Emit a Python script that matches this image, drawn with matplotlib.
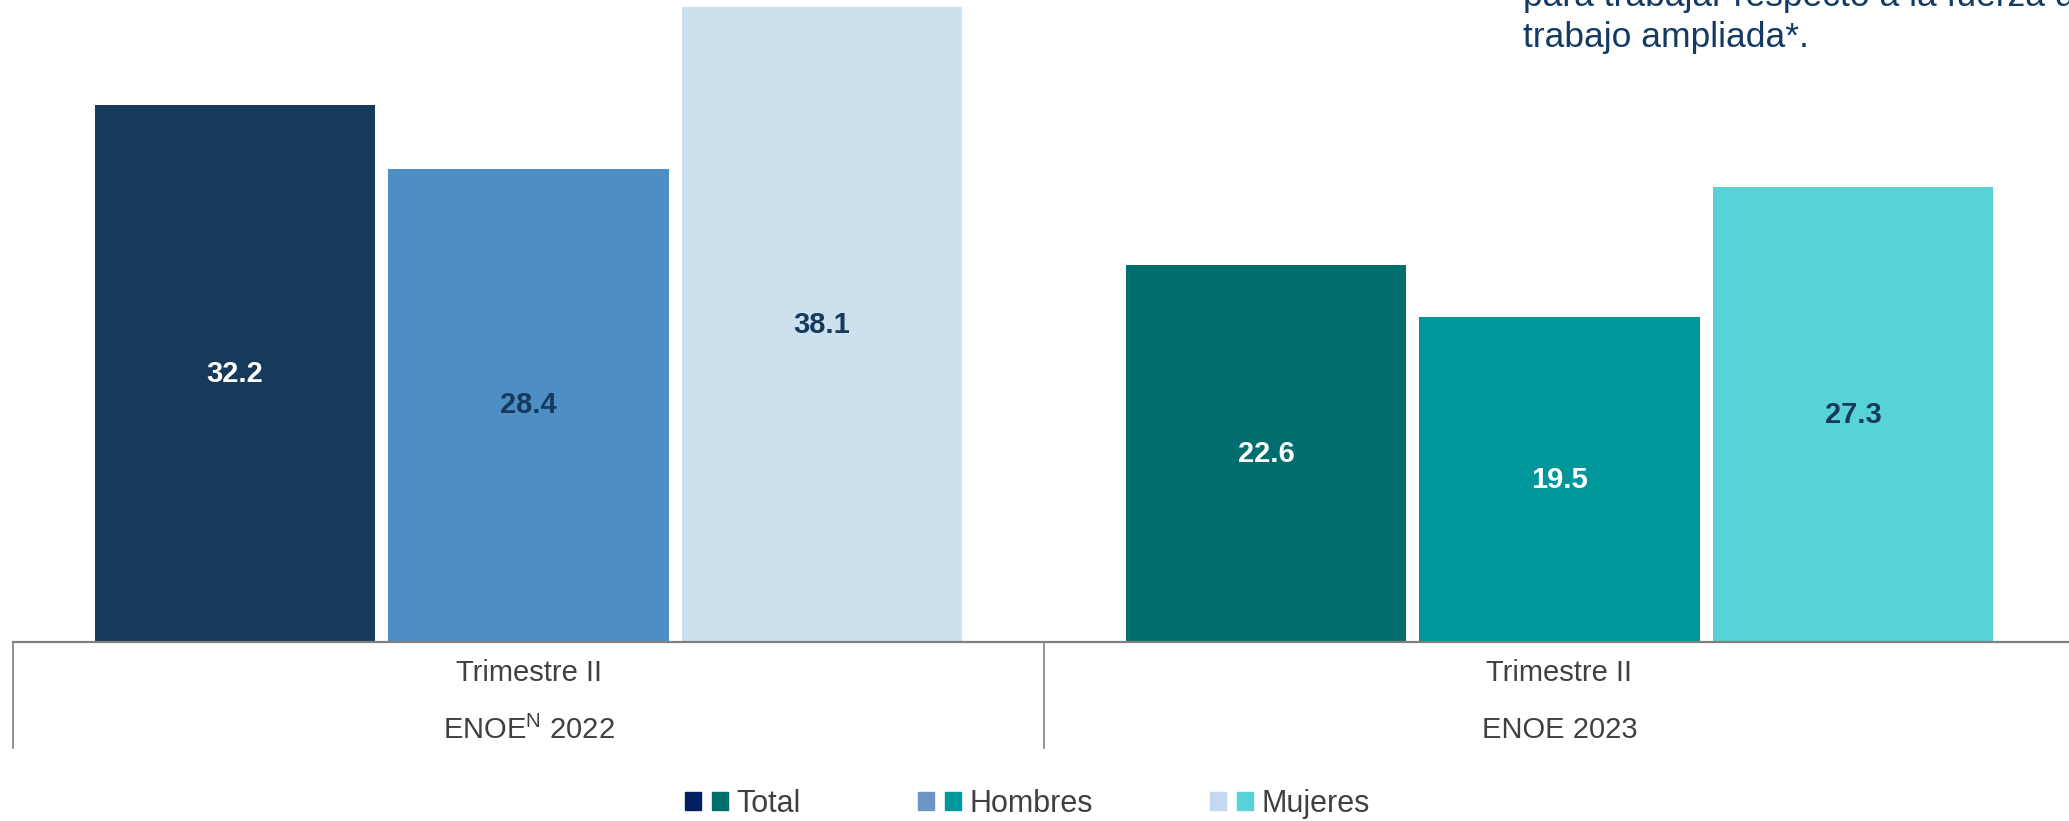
import matplotlib
matplotlib.use("Agg")
import matplotlib.pyplot as plt
from matplotlib.patches import Patch
from matplotlib.legend_handler import HandlerTuple
import numpy as np

plt.rcParams["font.family"] = ["Liberation Sans", "DejaVu Sans"]
plt.rcParams["mathtext.fontset"] = "custom"
plt.rcParams["mathtext.rm"] = "Liberation Sans"

# data
periods = ["Trimestre II", "Trimestre II"]
surveys = ["$\\mathrm{ENOE}^{\\mathrm{N}}$ 2022", "ENOE 2023"]
series = ["Total", "Hombres", "Mujeres"]
values_2022 = [32.2, 28.4, 38.1]
values_2023 = [22.6, 19.5, 27.3]

colors_2022 = ["#163A5C", "#4D8FC4", "#CDE0EE"]
colors_2023 = ["#006E6E", "#00979B", "#57D3D8"]
legend_colors = [("#002060", "#006E6E"), ("#6D96C7", "#00999B"), ("#C5D7EE", "#57D3D8")]
label_colors_2022 = ["white", "#163A5C", "#163A5C"]
label_colors_2023 = ["white", "white", "#163A5C"]

W, H = 2069, 821
fig = plt.figure(figsize=(W / 100, H / 100), dpi=100)
ax = fig.add_axes([13 / W, (H - 642) / H, 2062 / W, 642 / H])

offsets = np.array([-0.2847, 0.0, 0.2847])
bar_w = 0.2716
gray = "#808080"

groups = [
    (values_2022, colors_2022, label_colors_2022),
    (values_2023, colors_2023, label_colors_2023),
]
for i, (vals, cols, lcols) in enumerate(groups):
    bars = ax.bar(i + offsets, vals, bar_w, color=cols, zorder=2)
    for b, v, lc in zip(bars, vals, lcols):
        ax.text(b.get_x() + b.get_width() / 2, v / 2, f"{v:.1f}",
                ha="center", va="center", fontsize=21,
                fontweight="bold", color=lc, zorder=3)

ax.set_xlim(-0.5, 1.5)
ax.set_ylim(0, 38.53)
ax.axis("off")

# baseline and category separators
ax.axhline(0, color=gray, lw=1.6, zorder=4, clip_on=False)
xt = ax.get_xaxis_transform()
for xs in [-0.5, 0.5, 1.5]:
    ax.plot([xs, xs], [0, -106 / 642], color=gray, lw=1.2,
            transform=xt, clip_on=False)

for i, (p, s) in enumerate(zip(periods, surveys)):
    ax.annotate(p, xy=(i, 0), xycoords=xt, xytext=(0, -30.5),
                textcoords="offset pixels", ha="center", va="center",
                fontsize=21, color="#404040")
    ax.annotate(s, xy=(i, 0), xycoords=xt, xytext=(0, -88),
                textcoords="offset pixels", ha="center", va="center",
                fontsize=21, color="#404040")

# note in the upper right, its first line runs off the top and right edges
note_color = "#123A63"
fig.text(1523 / W, 1 - 6 / H, "para trabajar respecto a la fuerza de",
         va="baseline", ha="left", fontsize=25.5, color=note_color)
fig.text(1523 / W, 1 - 47 / H, "trabajo ampliada*.",
         va="baseline", ha="left", fontsize=25.5, color=note_color)

handles = [(Patch(color=a), Patch(color=b)) for a, b in legend_colors]
fig.legend(handles, series, handler_map={tuple: HandlerTuple(ndivide=None, pad=0.36)},
           loc="center", bbox_to_anchor=(1027.5 / W, 1 - 804 / H), ncol=3,
           frameon=False, fontsize=22, labelcolor="#404040",
           handlelength=1.41, handleheight=0.525, handletextpad=0.26,
           columnspacing=3.85, borderpad=0, borderaxespad=0)

fig.savefig("out.png", dpi=100)
